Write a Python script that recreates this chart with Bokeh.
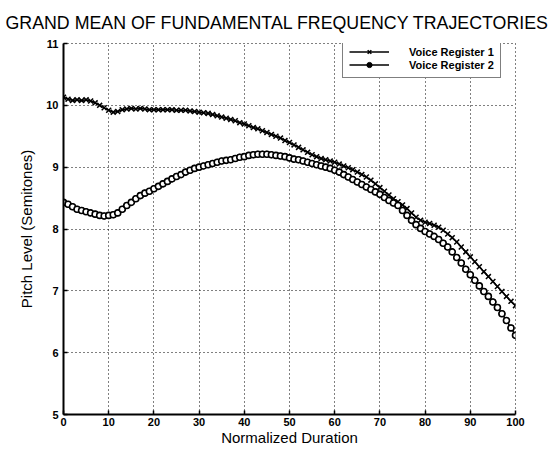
from bokeh.plotting import figure
from bokeh.models import ColumnDataSource, Legend, LegendItem, FixedTicker
from bokeh.embed import file_html
from bokeh.resources import INLINE

duration = list(range(0, 101))

register_1 = [
    10.13, 10.10, 10.08, 10.09, 10.08, 10.09, 10.07, 10.04, 10.00, 9.96,
    9.92, 9.89, 9.90, 9.93, 9.94, 9.95, 9.94, 9.95, 9.94, 9.93,
    9.93, 9.93, 9.93, 9.93, 9.93, 9.92, 9.92, 9.92, 9.91, 9.90,
    9.89, 9.88, 9.87, 9.85, 9.83, 9.81, 9.79, 9.77, 9.75, 9.72,
    9.70, 9.67, 9.64, 9.62, 9.59, 9.56, 9.53, 9.50, 9.47, 9.43,
    9.40, 9.36, 9.32, 9.28, 9.24, 9.20, 9.17, 9.14, 9.12, 9.10,
    9.08, 9.05, 9.02, 8.99, 8.96, 8.92, 8.88, 8.84, 8.79, 8.73,
    8.67, 8.61, 8.55, 8.49, 8.44, 8.39, 8.33, 8.26, 8.19, 8.14,
    8.11, 8.09, 8.06, 8.03, 7.98, 7.92, 7.86, 7.79, 7.71, 7.63,
    7.55, 7.47, 7.39, 7.31, 7.23, 7.15, 7.07, 6.99, 6.91, 6.83,
    6.76,
]

register_2 = [
    8.43, 8.40, 8.36, 8.32, 8.30, 8.28, 8.26, 8.24, 8.22, 8.21,
    8.22, 8.23, 8.26, 8.32, 8.38, 8.43, 8.49, 8.54, 8.58, 8.61,
    8.65, 8.69, 8.73, 8.77, 8.81, 8.85, 8.88, 8.92, 8.95, 8.98,
    9.00, 9.02, 9.04, 9.06, 9.08, 9.10, 9.11, 9.12, 9.14, 9.16,
    9.17, 9.19, 9.20, 9.21, 9.21, 9.21, 9.20, 9.19, 9.18, 9.17,
    9.15, 9.13, 9.12, 9.10, 9.08, 9.06, 9.04, 9.02, 9.00, 8.98,
    8.95, 8.92, 8.88, 8.84, 8.80, 8.76, 8.72, 8.68, 8.64, 8.60,
    8.56, 8.51, 8.46, 8.42, 8.38, 8.30, 8.22, 8.14, 8.07, 8.01,
    7.96, 7.92, 7.88, 7.83, 7.77, 7.71, 7.63, 7.54, 7.45, 7.35,
    7.26, 7.17, 7.08, 6.99, 6.91, 6.82, 6.73, 6.63, 6.52, 6.40,
    6.28,
]

x_ticks = [0, 10, 20, 30, 40, 50, 60, 70, 80, 90, 100]
y_ticks = [5, 6, 7, 8, 9, 10, 11]
series_names = ["Voice Register 1", "Voice Register 2"]
title_text = "GRAND MEAN OF FUNDAMENTAL FREQUENCY TRAJECTORIES"
x_label = "Normalized Duration"
y_label = "Pitch Level (Semitones)"

src = ColumnDataSource(dict(x=duration, r1=register_1, r2=register_2))

p = figure(width=556, height=448, x_range=(0, 100), y_range=(5, 11),
           output_backend="svg", toolbar_location=None,
           min_border_left=63, min_border_right=41, min_border_top=43,
           min_border_bottom=30)

p.background_fill_color = "white"
p.border_fill_color = "white"
p.outline_line_color = "black"
p.outline_line_dash = "1 3"
p.outline_line_width = 1

# title
p.title.text = title_text
p.title.text_font = "Liberation Sans"
p.title.text_font_size = "17.8px"
p.title.text_font_style = "normal"
p.title.text_color = "black"
p.title.align = "left"
p.title.offset = -58
p.title.standoff = 21

# grid
for g in (p.xgrid, p.ygrid):
    g.grid_line_color = "black"
    g.grid_line_dash = "1 3"
    g.grid_line_width = 1
p.xgrid.ticker = FixedTicker(ticks=x_ticks)
p.ygrid.ticker = FixedTicker(ticks=y_ticks)

# axes
p.xaxis.ticker = FixedTicker(ticks=x_ticks)
p.yaxis.ticker = FixedTicker(ticks=y_ticks)
for ax in (p.xaxis[0], p.yaxis[0]):
    ax.axis_line_color = "black"
    ax.axis_line_width = 2
    ax.major_tick_line_color = "black"
    ax.major_tick_line_width = 1.5
    ax.major_tick_in = 4
    ax.major_tick_out = 0
    ax.minor_tick_line_color = None
    ax.major_label_text_font = "Liberation Sans"
    ax.major_label_text_font_style = "bold"
    ax.major_label_text_font_size = "11px"
    ax.major_label_text_color = "black"
    ax.axis_label_text_font = "Liberation Sans"
    ax.axis_label_text_font_style = "normal"
    ax.axis_label_text_font_size = "15px"
    ax.axis_label_text_color = "black"

p.xaxis.axis_label = x_label
p.yaxis.axis_label = y_label
p.xaxis.major_label_standoff = 3
p.xaxis.axis_label_standoff = 0
p.yaxis.major_label_standoff = 5
p.yaxis.axis_label_standoff = 8

# data
l1 = p.line("x", "r1", source=src, line_color="black", line_width=1.5)
m1 = p.scatter("x", "r1", source=src, marker="x", size=7, line_color="black", line_width=1.5)
l2 = p.line("x", "r2", source=src, line_color="black", line_width=1.5)
# filled circles (used for the legend), hidden beneath the open circles
m2 = p.scatter("x", "r2", source=src, marker="circle", size=6, line_color="black",
               line_width=1, fill_color="black")
p.scatter("x", "r2", source=src, marker="circle", size=6, line_color="black",
          line_width=1.6, fill_color="white")

legend = Legend(items=[LegendItem(label=series_names[0], renderers=[l1, m1]),
                       LegendItem(label=series_names[1], renderers=[l2, m2])],
                location=(279, 336))
legend.border_line_color = "black"
legend.border_line_width = 1.5
legend.background_fill_color = "white"
legend.background_fill_alpha = 1
legend.label_text_font = "Liberation Sans"
legend.label_text_font_style = "bold"
legend.label_text_font_size = "11px"
legend.label_text_color = "black"
legend.glyph_width = 40
legend.glyph_height = 13
legend.label_height = 13
legend.label_standoff = 20
legend.spacing = 0
legend.padding = 6
legend.margin = 0
p.add_layout(legend)

open("out.html", "w").write(file_html(p, INLINE))
